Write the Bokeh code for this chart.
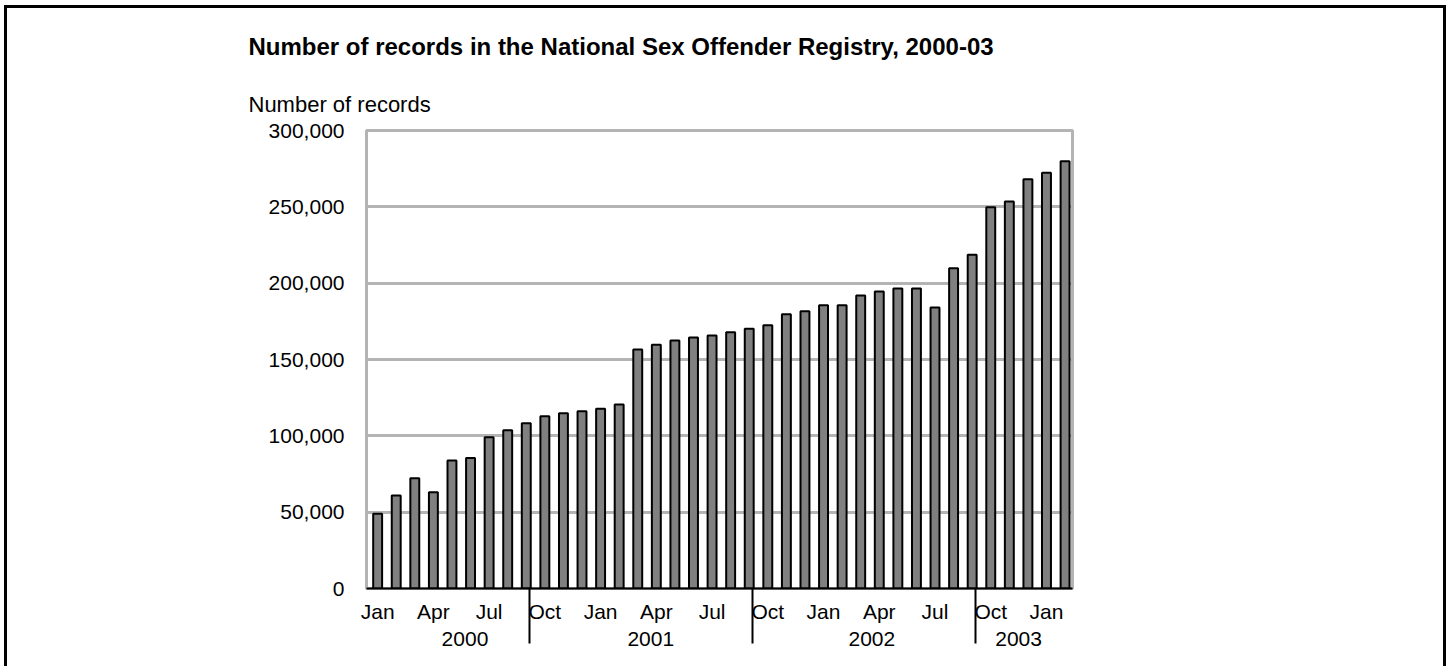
from bokeh.plotting import figure
from bokeh.models import (FixedTicker, NumeralTickFormatter, LinearAxis, Range1d, Title,
                          ColumnDataSource)
from bokeh.embed import file_html
from bokeh.resources import INLINE

# ---- data ----
months = ["2000-01", "2000-02", "2000-03", "2000-04", "2000-05", "2000-06", "2000-07", "2000-08",
          "2000-09", "2000-10", "2000-11", "2000-12", "2001-01", "2001-02", "2001-03", "2001-04",
          "2001-05", "2001-06", "2001-07", "2001-08", "2001-09", "2001-10", "2001-11", "2001-12",
          "2002-01", "2002-02", "2002-03", "2002-04", "2002-05", "2002-06", "2002-07", "2002-08",
          "2002-09", "2002-10", "2002-11", "2002-12", "2003-01", "2003-02"]
records = [48900, 60900, 72200, 63100, 83800, 85400, 99100, 103700,
           108300, 112900, 114800, 116100, 117700, 120500, 156500, 159600,
           162400, 164400, 165700, 167800, 170200, 172400, 179600, 181600,
           185500, 185500, 191900, 194500, 196500, 196500, 184000, 209800,
           218600, 249800, 253500, 268000, 272400, 279800]
month_tick_labels = ["Jan", "Apr", "Jul", "Oct", "Jan", "Apr", "Jul", "Oct",
                     "Jan", "Apr", "Jul", "Oct", "Jan"]
year_labels = ["2000", "2001", "2002", "2003"]
year_label_pos = [4.7, 14.7, 26.6, 34.5]
year_separators = [8.2, 20.2, 32.2]
y_ticks = [0, 50000, 100000, 150000, 200000, 250000, 300000]

FONT = "Liberation Sans"
GRID = "#b4b4b4"

idx = list(range(len(months)))
src = ColumnDataSource(dict(x=idx, top=records, month=months))

W, H = 1442, 661
p = figure(width=W, height=H, output_backend="svg", toolbar_location=None,
           x_range=Range1d(-0.6, 37.4), y_range=Range1d(0, 300000),
           min_border_left=359, min_border_right=377,
           min_border_top=122, min_border_bottom=81)
p.styles = {"border-left": "3px solid black", "border-top": "3px solid black",
            "border-right": "3px solid black", "box-sizing": "border-box",
            "margin-left": "4px", "margin-top": "5px"}

p.vbar(x="x", top="top", width=0.48, source=src, fill_color="#808080",
       line_color="black", line_width=2)

p.outline_line_color = GRID
p.outline_line_width = 3
p.xgrid.visible = False
p.ygrid.ticker = FixedTicker(ticks=y_ticks)
p.ygrid.grid_line_color = GRID
p.ygrid.grid_line_width = 3

# y axis
ya = p.yaxis[0]
ya.ticker = FixedTicker(ticks=y_ticks)
ya.formatter = NumeralTickFormatter(format="0,0")
ya.axis_line_color = None
ya.major_tick_line_color = None
ya.minor_tick_line_color = None
ya.major_label_text_font = FONT
ya.major_label_text_font_size = "21px"
ya.major_label_text_color = "black"
ya.major_label_standoff = 16

# month axis (the long minor ticks are the year separators)
xa = p.xaxis[0]
month_ticks = list(range(0, len(months), 3))
xa.ticker = FixedTicker(ticks=month_ticks, minor_ticks=year_separators)
xa.major_label_overrides = {t: lab for t, lab in zip(month_ticks, month_tick_labels)}
xa.axis_line_color = "black"
xa.axis_line_width = 2
xa.major_tick_line_color = None
xa.minor_tick_line_color = "black"
xa.minor_tick_line_width = 2
xa.minor_tick_in = 0
xa.minor_tick_out = 55
xa.major_label_text_font = FONT
xa.major_label_text_font_size = "21px"
xa.major_label_text_color = "black"
xa.major_label_standoff = -44

# year axis
ya2 = LinearAxis(ticker=FixedTicker(ticks=year_label_pos))
ya2.major_label_overrides = {t: lab for t, lab in zip(year_label_pos, year_labels)}
ya2.axis_line_color = None
ya2.major_tick_line_color = None
ya2.minor_tick_line_color = None
ya2.major_label_text_font = FONT
ya2.major_label_text_font_size = "21px"
ya2.major_label_text_color = "black"
ya2.major_label_standoff = 0
p.add_layout(ya2, "below")

# titles (first added sits closest to the frame)
sub = Title(text="Number of records", align="left", offset=-118,
            text_font=FONT, text_font_size="22px", text_font_style="normal",
            text_color="black", standoff=27)
p.add_layout(sub, "above")
main = Title(text="Number of records in the National Sex Offender Registry, 2000-03",
             align="left", offset=-118, text_font=FONT, text_font_size="24px",
             text_font_style="bold", text_color="black", standoff=34)
p.add_layout(main, "above")

open("out.html", "w").write(file_html(p, INLINE))
